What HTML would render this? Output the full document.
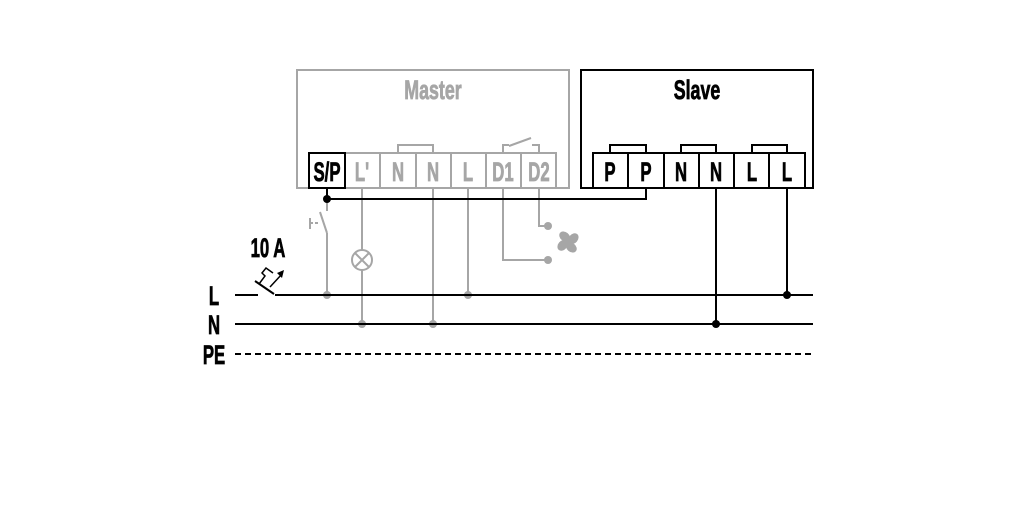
<!DOCTYPE html>
<html><head><meta charset="utf-8"><style>
html,body{margin:0;padding:0;background:#fff;}
svg{display:block}
text{font-family:"Liberation Sans",sans-serif;font-weight:bold;}
</style></head><body>
<svg width="1016" height="531" viewBox="0 0 1016 531" xmlns="http://www.w3.org/2000/svg">
<g fill="none" stroke="#a6a6a6" stroke-width="2">
  <rect x="297" y="70" width="272" height="118"/>
  <rect x="345" y="153" width="35" height="35"/>
  <rect x="380" y="153" width="36" height="35"/>
  <rect x="416" y="153" width="35" height="35"/>
  <rect x="451" y="153" width="35" height="35"/>
  <rect x="486" y="153" width="35" height="35"/>
  <rect x="521" y="153" width="35" height="35"/>
  <polyline points="398,153 398,145 433,145 433,153"/>
  <polyline points="503,153 503,145 509,145"/>
  <line x1="509" y1="146" x2="531" y2="138"/>
  <polyline points="532,145 539,145 539,153"/>
  <line x1="327" y1="199" x2="327" y2="211"/>
  <line x1="320" y1="212" x2="327" y2="233"/>
  <line x1="327" y1="233" x2="327" y2="295"/>
  <line x1="310" y1="218" x2="310" y2="229"/>
  <line x1="310" y1="223" x2="319" y2="223" stroke-dasharray="3,2"/>
  <line x1="362" y1="188" x2="362" y2="250"/>
  <circle cx="362" cy="260" r="10"/>
  <line x1="355" y1="253" x2="369" y2="267"/>
  <line x1="369" y1="253" x2="355" y2="267"/>
  <line x1="362" y1="270" x2="362" y2="324"/>
  <line x1="433" y1="188" x2="433" y2="324"/>
  <line x1="468" y1="188" x2="468" y2="295"/>
  <polyline points="503,188 503,260 548,260"/>
  <polyline points="539,188 539,226 548,226"/>
</g>
<g fill="#a6a6a6">
  <circle cx="327" cy="295" r="4"/>
  <circle cx="468" cy="295" r="4"/>
  <circle cx="362" cy="324" r="4"/>
  <circle cx="433" cy="324" r="4"/>
  <circle cx="548" cy="226" r="4"/>
  <circle cx="548" cy="260" r="4"/>
  <g transform="translate(568,242) rotate(40)">
    <ellipse cx="2" cy="-6" rx="4.5" ry="6"/>
    <ellipse cx="2" cy="-6" rx="4.5" ry="6" transform="rotate(90)"/>
    <ellipse cx="2" cy="-6" rx="4.5" ry="6" transform="rotate(180)"/>
    <ellipse cx="2" cy="-6" rx="4.5" ry="6" transform="rotate(270)"/>
    <circle r="4"/>
  </g>
</g>
<g fill="#a6a6a6" stroke="#a6a6a6" stroke-width="0.8" font-size="27" text-anchor="middle">
  <text x="433" y="99" transform="translate(433,0) scale(0.66,1) translate(-433,0)">Master</text>
  <text x="362" y="181" transform="translate(362,0) scale(0.62,1) translate(-362,0)">L'</text>
  <text x="398" y="181" transform="translate(398,0) scale(0.62,1) translate(-398,0)">N</text>
  <text x="433" y="181" transform="translate(433,0) scale(0.62,1) translate(-433,0)">N</text>
  <text x="468" y="181" transform="translate(468,0) scale(0.62,1) translate(-468,0)">L</text>
  <text x="503" y="181" transform="translate(503,0) scale(0.62,1) translate(-503,0)">D1</text>
  <text x="539" y="181" transform="translate(539,0) scale(0.62,1) translate(-539,0)">D2</text>
</g>
<g fill="none" stroke="#000" stroke-width="2">
  <rect x="581" y="70" width="232" height="118"/>
  <rect x="309" y="153" width="36" height="35"/>
  <rect x="593" y="153" width="35" height="35"/>
  <rect x="628" y="153" width="36" height="35"/>
  <rect x="664" y="153" width="35" height="35"/>
  <rect x="699" y="153" width="35" height="35"/>
  <rect x="734" y="153" width="35" height="35"/>
  <rect x="769" y="153" width="36" height="35"/>
  <polyline points="610,153 610,145 646,145 646,153"/>
  <polyline points="681,153 681,145 716,145 716,153"/>
  <polyline points="752,153 752,145 787,145 787,153"/>
  <line x1="327" y1="188" x2="327" y2="199"/>
  <polyline points="327,199 646,199 646,188"/>
  <line x1="716" y1="188" x2="716" y2="324"/>
  <line x1="787" y1="188" x2="787" y2="295"/>
  <line x1="235" y1="295" x2="258" y2="295"/>
  <line x1="255" y1="281" x2="274" y2="294"/>
  <line x1="275" y1="295" x2="813" y2="295"/>
  <line x1="235" y1="324" x2="813" y2="324"/>
  <line x1="235" y1="354" x2="813" y2="354" stroke-dasharray="6,4"/>
  <polyline points="259,284 265,276 262,273 266,268 273,273" stroke-width="1.5"/>
  <line x1="270" y1="287" x2="282" y2="274" stroke-width="1.5"/>
</g>
<polygon points="284,270 277,273 282,278" fill="#000"/>
<g fill="#000">
  <circle cx="327" cy="199" r="4"/>
  <circle cx="716" cy="324" r="4"/>
  <circle cx="787" cy="295" r="4"/>
</g>
<g fill="#000" stroke="#000" stroke-width="0.8" font-size="27" text-anchor="middle">
  <text x="697" y="99" transform="translate(697,0) scale(0.66,1) translate(-697,0)">Slave</text>
  <text x="327" y="181" transform="translate(327,0) scale(0.62,1) translate(-327,0)">S/P</text>
  <text x="610" y="181" transform="translate(610,0) scale(0.62,1) translate(-610,0)">P</text>
  <text x="646" y="181" transform="translate(646,0) scale(0.62,1) translate(-646,0)">P</text>
  <text x="681" y="181" transform="translate(681,0) scale(0.62,1) translate(-681,0)">N</text>
  <text x="716" y="181" transform="translate(716,0) scale(0.62,1) translate(-716,0)">N</text>
  <text x="752" y="181" transform="translate(752,0) scale(0.62,1) translate(-752,0)">L</text>
  <text x="787" y="181" transform="translate(787,0) scale(0.62,1) translate(-787,0)">L</text>
  <text x="268" y="257" transform="translate(268,0) scale(0.62,1) translate(-268,0)">10 A</text>
  <text x="214" y="305" transform="translate(214,0) scale(0.62,1) translate(-214,0)">L</text>
  <text x="214" y="334" transform="translate(214,0) scale(0.62,1) translate(-214,0)">N</text>
  <text x="214" y="364" transform="translate(214,0) scale(0.62,1) translate(-214,0)">PE</text>
</g>
</svg>
</body></html>
